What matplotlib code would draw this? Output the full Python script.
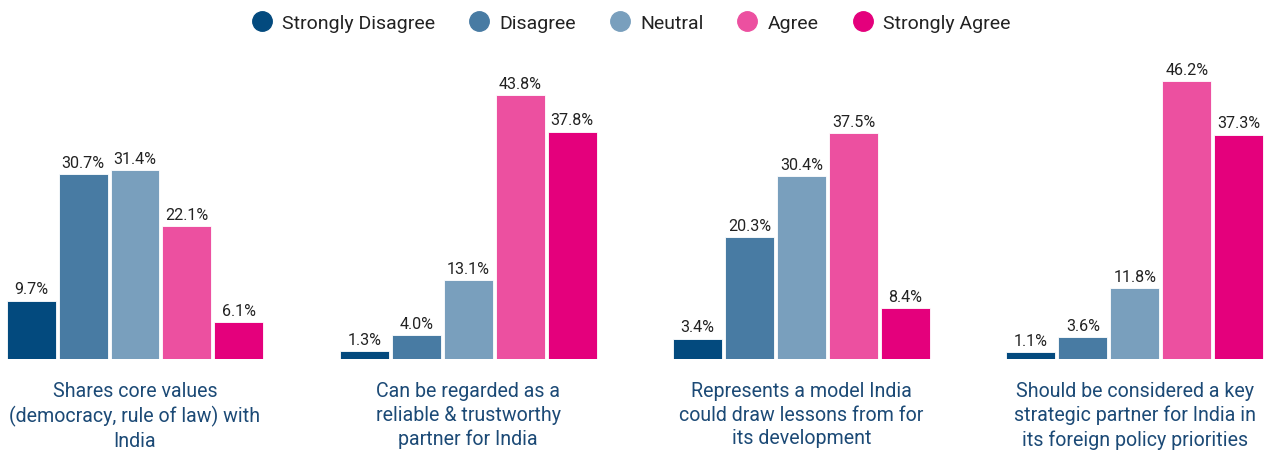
import numpy as np
import matplotlib.pyplot as plt
from matplotlib.lines import Line2D

plt.rcParams['font.family'] = ['Roboto', 'DejaVu Sans']

statements = [
    'Shares core values\n(democracy, rule of law) with\nIndia',
    'Can be regarded as a\nreliable & trustworthy\npartner for India',
    'Represents a model India\ncould draw lessons from for\nits development',
    'Should be considered a key\nstrategic partner for India in\nits foreign policy priorities',
]
responses = ['Strongly Disagree', 'Disagree', 'Neutral', 'Agree', 'Strongly Agree']
colors = ['#034a7e', '#487ba3', '#799fbd', '#ec50a0', '#e4007c']

strongly_disagree = [9.7, 1.3, 3.4, 1.1]
disagree = [30.7, 4.0, 20.3, 3.6]
neutral = [31.4, 13.1, 30.4, 11.8]
agree = [22.1, 43.8, 37.5, 46.2]
strongly_agree = [6.1, 37.8, 8.4, 37.3]
series = [strongly_disagree, disagree, neutral, agree, strongly_agree]

fig = plt.figure(figsize=(12.68, 4.52), dpi=100)
ax = fig.add_axes([0, 92 / 452, 1, 290 / 452])

x = np.arange(len(statements))
step = 0.156
width = 0.147
for i, (vals, color, name) in enumerate(zip(series, colors, responses)):
    pos = x + (i - 2) * step
    bars = ax.bar(pos, vals, width, color=color, edgecolor='white',
                  linewidth=0.6, label=name)
    for b, v in zip(bars, vals):
        ax.annotate(f'{v:.1f}%', (b.get_x() + b.get_width() / 2, v),
                    xytext=(0, 3), textcoords='offset points',
                    ha='center', va='bottom', fontsize=11.6, color='#222222')

ax.set_xlim(-135 / 333.3, (1268 - 135) / 333.3)
ax.set_ylim(0, 48.2)
ax.axis('off')

for xi, label in zip(x, statements):
    ax.annotate(label, (xi, 0), xytext=(0, -16), textcoords='offset points',
                ha='center', va='top', fontsize=14.1, color='#1c4a76',
                linespacing=1.3)

handles = [Line2D([], [], marker='o', linestyle='', markersize=14,
                  markerfacecolor=c, markeredgecolor=c) for c in colors]
fig.legend(handles, responses, loc='upper center', bbox_to_anchor=(0.494, 1.005),
           ncol=5, frameon=False, fontsize=14, handletextpad=0.05,
           columnspacing=1.25, labelcolor='#222222')

fig.savefig('out.png', dpi=100)
